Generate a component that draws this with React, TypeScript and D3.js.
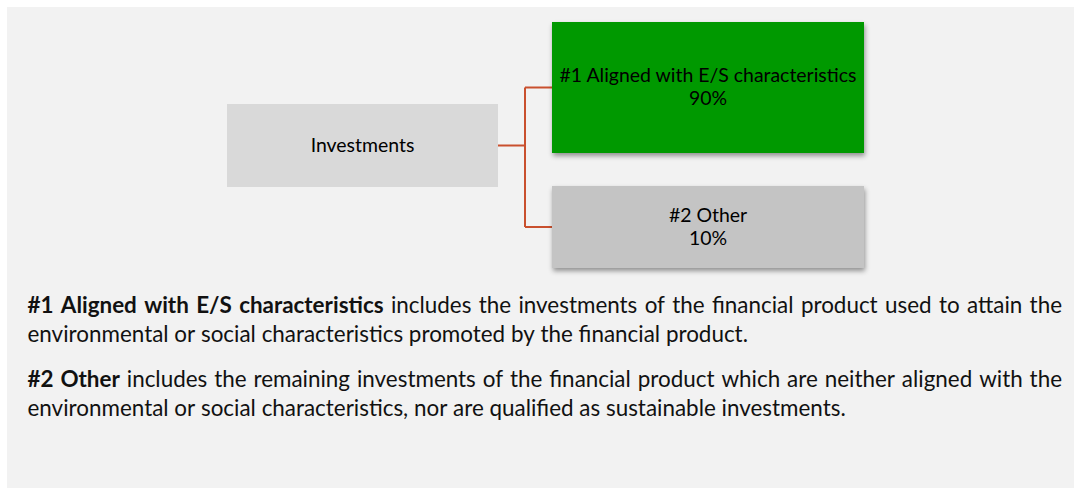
import React, { useMemo } from "react";
import * as d3 from "d3";

// ---------- data ----------
const rootLabel = "Investments";
const categories = ["#1 Aligned with E/S characteristics", "#2 Other"];
const shares = [90, 10];
const boxColors = ["#009900", "#c4c4c4"];
const definitionTerms = ["#1 Aligned with E/S characteristics", "#2 Other"];
const definitionLines = [
  [
    "includes the investments of the financial product used to attain the",
    "environmental or social characteristics promoted by the financial product.",
  ],
  [
    "includes the remaining investments of the financial product which are neither aligned with the",
    "environmental or social characteristics, nor are qualified as sustainable investments.",
  ],
];

// ---------- layout ----------
const W = 1074;
const H = 488;
const FONT = "Lato, 'Open Sans', sans-serif";
const panel = { x: 7, y: 7 };
const rootBox = { x: 227, y: 104, w: 271, h: 83 };
const childX = 552;
const childW = 312;
const childBoxes = [
  { y: 22, h: 131 },
  { y: 186, h: 82 },
];
const trunkX = 525;
const boxLineHeight = 23;
const boxCapHalf = 6;
const textLeft = 27.5;
const textRight = 1062;
const paraBaselines = [
  [312.5, 341.5],
  [387, 416],
];

let ctx: CanvasRenderingContext2D | null = null;
function textWidth(s: string, size: number, weight: string | number = "normal") {
  if (!ctx) ctx = document.createElement("canvas").getContext("2d");
  ctx!.font = `${weight} ${size}px ${FONT}`;
  return ctx!.measureText(s).width;
}

export default function App() {
  const fmt = d3.format(".0%");
  const color = d3.scaleOrdinal<string, string>().domain(categories).range(boxColors);

  const sizes = useMemo(() => {
    const base = 20;
    const boxFs = (base * 298) / textWidth(categories[0], base);
    const f1 = (base * 719.5) / textWidth(definitionLines[0][1], base);
    const f2 = (base * 820) / textWidth(definitionLines[1][1], base);
    return { boxFs, paraFs: (f1 + f2) / 2 };
  }, []);

  const connector = useMemo(() => {
    const p = d3.path();
    const rootCy = rootBox.y + rootBox.h / 2;
    const cys = childBoxes.map((b) => b.y + b.h / 2);
    p.moveTo(rootBox.x + rootBox.w, rootCy);
    p.lineTo(trunkX, rootCy);
    p.moveTo(trunkX, d3.min(cys)!);
    p.lineTo(trunkX, d3.max(cys)!);
    cys.forEach((cy) => {
      p.moveTo(trunkX, cy);
      p.lineTo(childX, cy);
    });
    return p.toString();
  }, []);

  const paragraphs = useMemo(() => {
    const fs = sizes.paraFs;
    return definitionTerms.map((term, i) => {
      const lines = definitionLines[i];
      return lines.map((line, li) => {
        const tokens: { w: string; bold: boolean }[] = [];
        if (li === 0) term.split(" ").forEach((w) => tokens.push({ w, bold: true }));
        line.split(" ").forEach((w) => tokens.push({ w, bold: false }));
        const widths = tokens.map((t) => textWidth(t.w, fs, t.bold ? "bold" : "normal"));
        const justify = li < lines.length - 1;
        const space = textWidth(" ", fs);
        const gap = justify
          ? (textRight - textLeft - d3.sum(widths)) / (tokens.length - 1)
          : space;
        let x = textLeft;
        const placed = tokens.map((t, k) => {
          const o = { ...t, x };
          x += widths[k] + gap;
          return o;
        });
        return { y: paraBaselines[i][li], words: placed };
      });
    });
  }, [sizes]);

  return (
    <svg
      style={{
        position: "absolute",
        left: 0,
        top: 0,
        width: "100vw",
        height: "100vh",
        minWidth: W,
        minHeight: H,
        display: "block",
        overflow: "hidden",
        background: "#f2f2f2",
      }}
      fontFamily={FONT}
    >
      <defs>
        <filter id="shadow" x="-10%" y="-10%" width="130%" height="140%">
          <feDropShadow dx="1" dy="3" stdDeviation="2.4" floodColor="#000" floodOpacity="0.4" />
        </filter>
      </defs>
      <rect x={0} y={0} width="100%" height={panel.y} fill="#ffffff" />
      <rect x={0} y={0} width={panel.x} height="100%" fill="#ffffff" />

      <path d={connector} fill="none" stroke="#c9502e" strokeWidth={2} />

      <rect x={rootBox.x} y={rootBox.y} width={rootBox.w} height={rootBox.h} fill="#d9d9d9" />
      <text
        x={rootBox.x + rootBox.w / 2}
        y={rootBox.y + rootBox.h / 2 + boxCapHalf}
        textAnchor="middle"
        fontSize={sizes.boxFs}
        fill="#000"
      >
        {rootLabel}
      </text>

      {categories.map((c, i) => {
        const b = childBoxes[i];
        const cx = childX + childW / 2;
        const cy = b.y + b.h / 2;
        return (
          <g key={c}>
            <rect x={childX} y={b.y} width={childW} height={b.h} fill={color(c)} filter="url(#shadow)" />
            <text
              x={cx}
              y={cy - boxLineHeight / 2 + boxCapHalf}
              textAnchor="middle"
              fontSize={sizes.boxFs}
              fill="#000"
            >
              {c}
            </text>
            <text
              x={cx}
              y={cy + boxLineHeight / 2 + boxCapHalf}
              textAnchor="middle"
              fontSize={sizes.boxFs}
              fill="#000"
            >
              {fmt(shares[i] / 100)}
            </text>
          </g>
        );
      })}

      {paragraphs.map((lines, i) =>
        lines.map((ln, li) => (
          <g key={`${i}-${li}`}>
            {ln.words.map((w, k) => (
              <text
                key={k}
                x={w.x}
                y={ln.y}
                fontSize={sizes.paraFs}
                fontWeight={w.bold ? "bold" : "normal"}
                fill="#111"
              >
                {w.w}
              </text>
            ))}
          </g>
        ))
      )}
    </svg>
  );
}
